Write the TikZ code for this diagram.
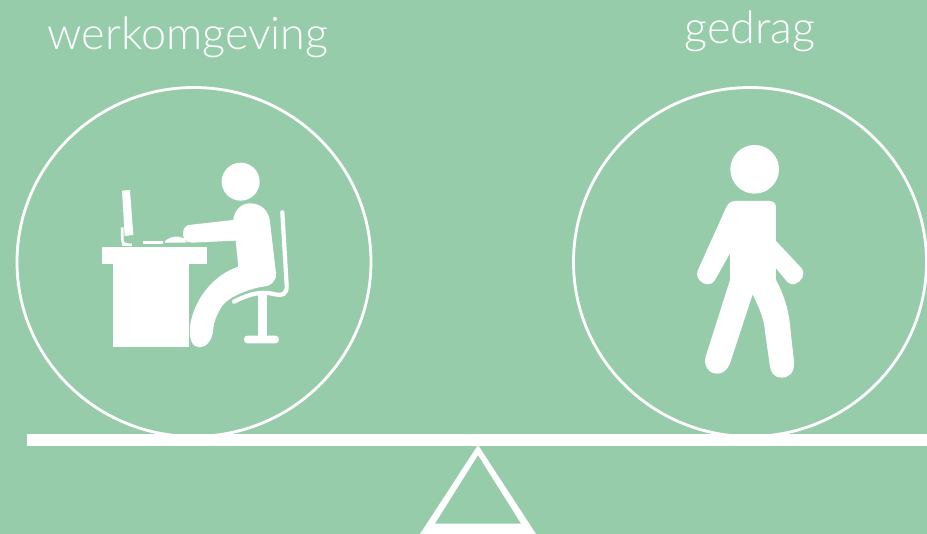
\documentclass[tikz,border=0pt]{standalone}
\usepackage{fontspec}
\setmainfont{Lato Light}
\usepackage{color}
\definecolor{bggreen}{RGB}{151,204,171}
\tikzset{
  kop/.style={white,font=\fontsize{25.6}{30}\selectfont,inner sep=0pt},
  rand/.style={white,line width=1.6pt},
  stok/.style={white,line width=2.4pt,line cap=round,line join=round},
  vlak/.style={fill=white,draw=none}
}
\begin{document}
\begin{tikzpicture}[x=0.02cm,y=-0.02cm]
    \fill[bggreen] (0,0) rectangle (927,534);
    \useasboundingbox (0,0) rectangle (927,534);
    \node[kop] (werkomgeving) at (188,37) {werkomgeving};
    \node[kop] (gedrag) at (750,31) {gedrag};
    % balance
    \draw[rand] (194,262) ellipse (177 and 174.5);
    \draw[rand] (750,262) ellipse (176.5 and 174.5);
    \fill[vlak] (27,434) rectangle (927,446);
    \fill[vlak,even odd rule] (478,445) -- (536,534) -- (420,534) -- cycle
                              (478,455) -- (435,523.5) -- (521,523.5) -- cycle;
    % person at the desk
    \begin{scope}[shift={(90,150)},scale=0.3333]
        \fill[vlak] (452,95) circle (57);
        \fill[vlak] (36,290) rectangle (352,341);
        \fill[vlak] (68,341) rectangle (296,590);
        \fill[vlak] (96,122) -- (120,120) -- (130,255) -- (104,258) -- cycle;
        \fill[vlak] (93,232) -- (101,232) -- (101,272) .. controls (102,280) and (115,280) .. (126,281)
                    -- (126,288) -- (98,288) .. controls (94,280) and (93,270) .. (93,260) -- cycle;
        \fill[vlak] (158,273) -- (218,273) -- (218,282) -- (158,282) -- cycle;
        \fill[vlak] (225,274) .. controls (240,258) and (270,255) .. (285,268) -- (290,278) -- (225,278) -- cycle;
        \fill[vlak] (480,160) .. controls (515,160) and (538,185) .. (540,215)
                    -- (558,370) .. controls (560,395) and (540,410) .. (520,410)
                    .. controls (480,415) and (415,440) .. (395,470)
                    .. controls (380,495) and (372,515) .. (370,535)
                    .. controls (368,575) and (345,592) .. (330,592)
                    .. controls (310,592) and (296,575) .. (300,530)
                    .. controls (305,480) and (345,385) .. (445,350)
                    -- (437,272) -- (305,278)
                    .. controls (285,278) and (278,262) .. (279,248)
                    .. controls (280,232) and (290,224) .. (305,224)
                    -- (430,210) .. controls (432,185) and (450,160) .. (480,160) -- cycle;
        \draw[stok] (577,187) -- (590,405) .. controls (592,435) and (575,438) .. (555,433)
                    .. controls (525,425) and (490,425) .. (432,455);
        \fill[vlak] (503,425) rectangle (530,560);
        \fill[vlak,rounded corners=2pt] (462,557) rectangle (567,580);
    \end{scope}
    % walking person
    \begin{scope}[shift={(680,135)},scale=0.3333]
        \fill[vlak] (224,103) circle (73);
        \fill[vlak] (165,198) -- (268,198) .. controls (280,198) and (288,205) .. (288,218)
                    -- (288,318) -- (365,400)
                    .. controls (378,418) and (365,440) .. (345,447)
                    .. controls (335,450) and (325,445) .. (318,436)
                    -- (288,400) -- (288,435) .. controls (310,475) and (325,520) .. (330,570)
                    -- (342,680) .. controls (345,720) and (320,728) .. (305,728)
                    .. controls (285,728) and (273,715) .. (270,695)
                    -- (255,590) .. controls (252,550) and (240,525) .. (218,478)
                    -- (150,685) .. controls (140,710) and (125,716) .. (112,716)
                    .. controls (85,716) and (70,690) .. (77,665)
                    -- (150,435) -- (150,355) -- (105,435)
                    .. controls (92,455) and (70,450) .. (58,435)
                    .. controls (50,425) and (50,415) .. (54,405)
                    -- (135,225) .. controls (142,208) and (150,198) .. (165,198) -- cycle;
    \end{scope}
\end{tikzpicture}
\end{document}
